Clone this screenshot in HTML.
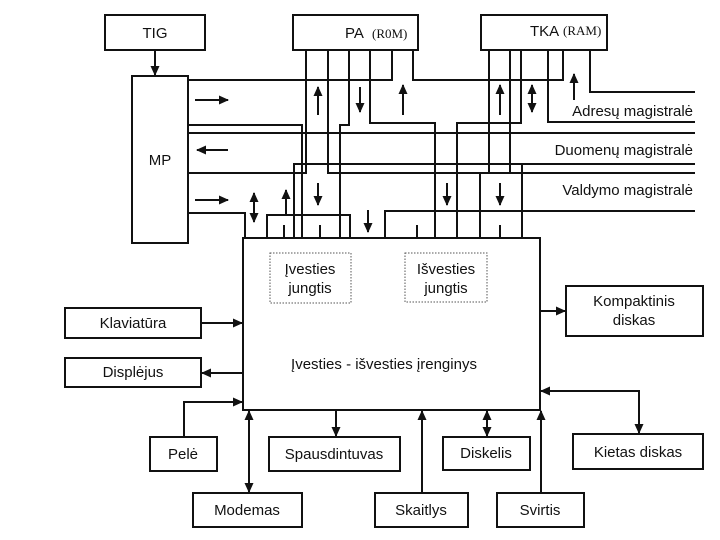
<!DOCTYPE html>
<html><head><meta charset="utf-8"><style>
html,body{margin:0;padding:0;background:#fff}
svg{display:block}
text{font-family:"Liberation Sans",Arial,sans-serif;font-size:15px;fill:#111}
.s{font-family:"Liberation Serif",serif;font-size:13px}
</style></head><body>
<svg width="720" height="540" viewBox="0 0 720 540" xmlns="http://www.w3.org/2000/svg">
<defs>
<marker id="a" markerWidth="10" markerHeight="10" refX="9" refY="5" orient="auto" markerUnits="userSpaceOnUse"><path d="M0,0.5 L10,5 L0,9.5 z" fill="#111"/></marker>
<marker id="b" markerWidth="10" markerHeight="10" refX="1" refY="5" orient="auto" markerUnits="userSpaceOnUse"><path d="M10,0.5 L0,5 L10,9.5 z" fill="#111"/></marker>
</defs>
<g fill="none" stroke="#111" stroke-width="2">
<rect x="105" y="15" width="100" height="35"/>
<rect x="293" y="15" width="125" height="35"/>
<rect x="481" y="15" width="126" height="35"/>
<rect x="132" y="76" width="56" height="167"/>
<rect x="243" y="238" width="297" height="172"/>
<rect x="65" y="308" width="136" height="30"/>
<rect x="65" y="358" width="136" height="29"/>
<rect x="566" y="286" width="137" height="50"/>
<rect x="150" y="437" width="67" height="34"/>
<rect x="269" y="437" width="131" height="34"/>
<rect x="443" y="437" width="87" height="33"/>
<rect x="573" y="434" width="130" height="35"/>
<rect x="193" y="493" width="109" height="34"/>
<rect x="375" y="493" width="93" height="34"/>
<rect x="497" y="493" width="87" height="34"/>
</g>
<g fill="none" stroke="#555" stroke-width="1" stroke-dasharray="1.5,1.5">
<rect x="270" y="253" width="81" height="50"/>
<rect x="405" y="253" width="82" height="49"/>
</g>
<g fill="none" stroke="#111" stroke-width="2">
<polyline points="188,80 392,80 392,50"/>
<polyline points="413,50 413,80 563,80 563,50"/>
<polyline points="590,50 590,92 695,92"/>
<polyline points="188,125 302,125 302,238"/>
<polyline points="349,50 349,125 340,125 340,238"/>
<polyline points="188,133 695,133"/>
<polyline points="370,50 370,123 435,123 435,238"/>
<polyline points="457,238 457,123 521,123 521,50"/>
<polyline points="548,50 548,122 695,122"/>
<polyline points="306,50 306,173 188,173"/>
<polyline points="294,238 294,164 695,164"/>
<polyline points="522,164 522,238"/>
<polyline points="328,50 328,173 695,173"/>
<polyline points="510,50 510,173"/>
<polyline points="489,50 489,173 480,173 480,238"/>
<polyline points="188,213 245,213 245,238"/>
<polyline points="267,238 267,215 350,215 350,238"/>
<polyline points="385,238 385,211 695,211"/>
<polyline points="284,238 284,225"/>
<polyline points="320,238 320,225"/>
<polyline points="417,238 417,225"/>
<polyline points="500,238 500,225"/>
</g>
<g fill="none" stroke="#111" stroke-width="2">
<line x1="155" y1="50" x2="155" y2="75" marker-end="url(#a)"/>
<line x1="195" y1="100" x2="228" y2="100" marker-end="url(#a)"/>
<line x1="228" y1="150" x2="197" y2="150" marker-end="url(#a)"/>
<line x1="195" y1="200" x2="228" y2="200" marker-end="url(#a)"/>
<line x1="254" y1="193" x2="254" y2="222" marker-start="url(#b)" marker-end="url(#a)"/>
<line x1="286" y1="215" x2="286" y2="190" marker-end="url(#a)"/>
<line x1="318" y1="183" x2="318" y2="205" marker-end="url(#a)"/>
<line x1="318" y1="115" x2="318" y2="87" marker-end="url(#a)"/>
<line x1="360" y1="87" x2="360" y2="112" marker-end="url(#a)"/>
<line x1="403" y1="115" x2="403" y2="85" marker-end="url(#a)"/>
<line x1="368" y1="210" x2="368" y2="232" marker-end="url(#a)"/>
<line x1="447" y1="183" x2="447" y2="205" marker-end="url(#a)"/>
<line x1="500" y1="115" x2="500" y2="85" marker-end="url(#a)"/>
<line x1="532" y1="85" x2="532" y2="112" marker-start="url(#b)" marker-end="url(#a)"/>
<line x1="574" y1="100" x2="574" y2="74" marker-end="url(#a)"/>
<line x1="500" y1="183" x2="500" y2="205" marker-end="url(#a)"/>
<line x1="201" y1="323" x2="242" y2="323" marker-end="url(#a)"/>
<line x1="243" y1="373" x2="202" y2="373" marker-end="url(#a)"/>
<polyline points="184,437 184,402 242,402" marker-end="url(#a)"/>
<line x1="540" y1="311" x2="565" y2="311" marker-end="url(#a)"/>
<polyline points="541,391 639,391 639,433" marker-start="url(#b)" marker-end="url(#a)"/>
<line x1="249" y1="411" x2="249" y2="492" marker-start="url(#b)" marker-end="url(#a)"/>
<line x1="336" y1="410" x2="336" y2="436" marker-end="url(#a)"/>
<line x1="487" y1="411" x2="487" y2="436" marker-start="url(#b)" marker-end="url(#a)"/>
<line x1="422" y1="493" x2="422" y2="411" marker-end="url(#a)"/>
<line x1="541" y1="493" x2="541" y2="411" marker-end="url(#a)"/>
</g>
<text x="155" y="38" text-anchor="middle">TIG</text>
<text x="345" y="38">PA</text><text class="s" x="372" y="38">(R0M)</text>
<text x="530" y="36">TKA</text><text class="s" x="563" y="35">(RAM)</text>
<text x="160" y="165" text-anchor="middle">MP</text>
<text x="693" y="116" text-anchor="end">Adresų magistralė</text>
<text x="693" y="155" text-anchor="end">Duomenų magistralė</text>
<text x="693" y="195" text-anchor="end">Valdymo magistralė</text>
<text x="310" y="274" text-anchor="middle">Įvesties</text>
<text x="310" y="293" text-anchor="middle">jungtis</text>
<text x="446" y="274" text-anchor="middle">Išvesties</text>
<text x="446" y="293" text-anchor="middle">jungtis</text>
<text x="384" y="369" text-anchor="middle">Įvesties - išvesties įrenginys</text>
<text x="133" y="328" text-anchor="middle">Klaviatūra</text>
<text x="133" y="377" text-anchor="middle">Displėjus</text>
<text x="634" y="306" text-anchor="middle">Kompaktinis</text>
<text x="634" y="325" text-anchor="middle">diskas</text>
<text x="183" y="459" text-anchor="middle">Pelė</text>
<text x="334" y="459" text-anchor="middle">Spausdintuvas</text>
<text x="486" y="458" text-anchor="middle">Diskelis</text>
<text x="638" y="457" text-anchor="middle">Kietas diskas</text>
<text x="247" y="515" text-anchor="middle">Modemas</text>
<text x="421" y="515" text-anchor="middle">Skaitlys</text>
<text x="540" y="515" text-anchor="middle">Svirtis</text>
</svg>
</body></html>
